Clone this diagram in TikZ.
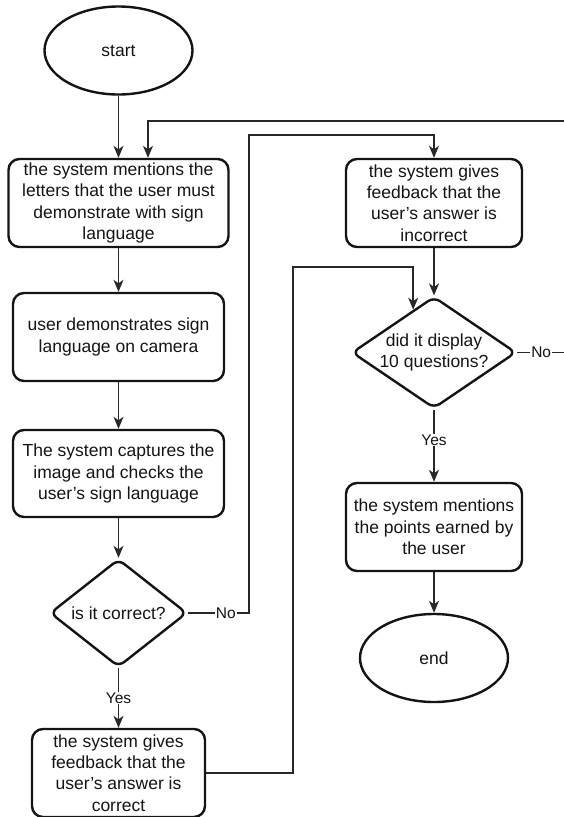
\documentclass[tikz,border=0pt]{standalone}
\usepackage{fontspec}
\setmainfont{Liberation Sans}
\usetikzlibrary{arrows.meta,shapes.geometric,calc}
\definecolor{BoxBlack}{RGB}{20,20,20}
\definecolor{WireGray}{RGB}{40,40,40}

\begin{document}
\begin{tikzpicture}[x=1pt,y=-1pt,>={Stealth[length=12pt,width=10pt,inset=3.5pt]},
    every node/.style={font=\fontsize{17.5}{21.3}\selectfont,align=center,inner sep=0pt,text=BoxBlack},
    proc/.style={draw=BoxBlack,line width=2.4pt,rounded corners=11pt,minimum height=88pt},
    term/.style={draw=BoxBlack,line width=2.4pt,ellipse,minimum width=148pt,minimum height=88pt},
    test/.style={draw=BoxBlack,line width=2.4pt,diamond,rounded corners=7pt},
    wire/.style={->,line width=1.4pt,WireGray},
    lbl/.style={fill=white,font=\fontsize{15.5}{18}\selectfont,inner sep=1pt}]
      \useasboundingbox (0,0) rectangle (564,817);
      % left column
      \node[term] (start) at (118.5,50.5) {start};
      \node[proc,minimum width=220pt] (letters) at (118.5,203) {the system mentions the\\letters that the user must\\demonstrate with sign\\language};
      \node[proc,minimum width=211pt] (demo) at (118.5,337) {user demonstrates sign\\language on camera};
      \node[proc,minimum width=211pt,minimum height=87pt] (capture) at (118.5,473.5) {The system captures the\\image and checks the\\user's sign language};
      \node[test,minimum width=137pt,minimum height=108pt,aspect=1.27] (correct) at (118.5,613) {is it correct?};
      \node[proc,minimum width=173pt] (right) at (118.5,773) {the system gives\\feedback that the\\user's answer is\\correct};
      % right column
      \node[proc,minimum width=176pt] (wrong) at (434,203) {the system gives\\feedback that the\\user's answer is\\incorrect};
      \node[test,minimum width=160pt,minimum height=109pt,aspect=1.47] (ten) at (434,352.5) {did it display\\10 questions?};
      \node[proc,minimum width=176pt] (points) at (434,527) {the system mentions\\the points earned by\\the user};
      \node[term] (finish) at (434,658) {end};
      % bends
      \coordinate (noLeft) at (249,135);
      \coordinate (noRight) at (565,121);
      \coordinate (backUp) at (293,267);
      % connectors
      \draw[wire] (start) -- (letters);
      \draw[wire] (letters) -- (demo);
      \draw[wire] (demo) -- (capture);
      \draw[wire] (capture) -- (correct);
      \draw[wire] (correct) -- node[lbl]{Yes} (right);
      \draw[wire] (correct.east) -- node[lbl,pos=0.62]{No} (correct.east -| noLeft) -- (noLeft) -| (wrong.north);
      \draw[wire] (wrong) -- (ten);
      \draw[wire] (ten) -- node[lbl,pos=0.42]{Yes} (points);
      \draw[wire] (points) -- (finish);
      \draw[wire] (ten.east) -- node[lbl]{No} (ten.east -| noRight) -- (noRight) -| ([xshift=29.5pt]letters.north);
      \draw[wire] (right.east) -| (backUp) -| ($(ten.north)!0.25!(ten.west)$);
    \end{tikzpicture}
\end{document}
